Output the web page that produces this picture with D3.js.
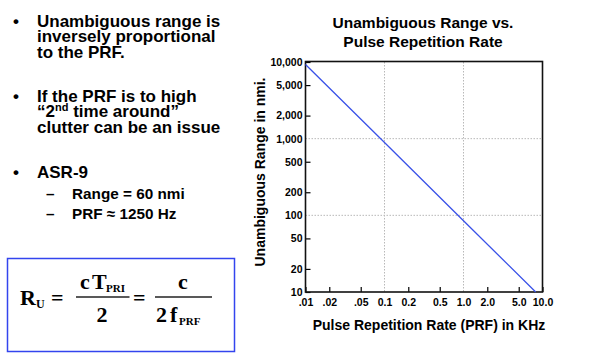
<!DOCTYPE html>
<html><head><meta charset="utf-8">
<script src="https://cdn.jsdelivr.net/npm/d3@7"></script>
<style>
body{margin:0;background:#fff;}
svg{display:block;}
text{font-family:"Liberation Sans",Arial,sans-serif;font-weight:bold;fill:#000;}
.serif{font-family:"Liberation Serif","Times New Roman",serif;font-weight:bold;}
</style></head>
<body>
<script>
// ---- data ----
const prfKHz = [0.01, 0.1, 1, 8.2];
const rangeNmi = [9300, 890, 85, 10];
const xTickValues = [0.01, 0.02, 0.05, 0.1, 0.2, 0.5, 1, 2, 5, 10];
const xTickLabels = [".01", ".02", ".05", "0.1", "0.2", "0.5", "1.0", "2.0", "5.0", "10.0"];
const yTickValues = [10, 20, 50, 100, 200, 500, 1000, 2000, 5000, 10000];
const yTickLabels = ["10", "20", "50", "100", "200", "500", "1,000", "2,000", "5,000", "10,000"];
const xGrid = [0.1, 1];
const yGrid = [100, 1000];

const W = 600, H = 358;
const svg = d3.select("body").append("svg").attr("width", W).attr("height", H);

const pL = 305.5, pR = 542.5, pT = 62, pB = 292;
const x = d3.scaleLog().domain([0.01, 10]).range([pL, pR]);
const y = d3.scaleLog().domain([10, 10000]).range([pB, pT]);

// grid
svg.append("g").selectAll("line").data(xGrid).join("line")
  .attr("x1", d => x(d)).attr("x2", d => x(d)).attr("y1", pT).attr("y2", pB)
  .attr("stroke", "#b8b8b8").attr("stroke-width", 1).attr("stroke-dasharray", "1.5,1.5");
svg.append("g").selectAll("line").data(yGrid).join("line")
  .attr("y1", d => y(d)).attr("y2", d => y(d)).attr("x1", pL).attr("x2", pR)
  .attr("stroke", "#b8b8b8").attr("stroke-width", 1).attr("stroke-dasharray", "1.5,1.5");

// axes
const xAxis = d3.axisBottom(x).tickValues(xTickValues)
  .tickFormat((d, i) => xTickLabels[i]).tickSize(-5).tickPadding(7);
const gx = svg.append("g").attr("transform", `translate(0,${pB})`).call(xAxis);
gx.select(".domain").remove();
gx.selectAll(".tick text").style("font-size", "10.5px").style("font-family", "Liberation Sans, Arial, sans-serif").style("font-weight", "bold");
gx.selectAll(".tick line").attr("stroke", "#000").attr("stroke-width", 1.2)
  .filter(d => xGrid.includes(d)).remove();

const yAxis = d3.axisLeft(y).tickValues(yTickValues)
  .tickFormat((d, i) => yTickLabels[i]).tickSize(-5).tickPadding(3);
const gy = svg.append("g").attr("transform", `translate(${pL},0)`).call(yAxis);
gy.select(".domain").remove();
gy.selectAll(".tick text").style("font-size", "10.5px").style("font-family", "Liberation Sans, Arial, sans-serif").style("font-weight", "bold");
gy.selectAll(".tick line").attr("stroke", "#000").attr("stroke-width", 1.2)
  .filter(d => yGrid.includes(d)).remove();

// frame
svg.append("rect").attr("x", pL).attr("y", pT - 0.5).attr("width", pR - pL).attr("height", pB - pT + 0.5)
  .attr("fill", "none").attr("stroke", "#111").attr("stroke-width", 1.6);

// line
const line = d3.line().x((d, i) => x(prfKHz[i])).y(d => y(d));
svg.append("path").datum(rangeNmi).attr("d", line)
  .attr("fill", "none").attr("stroke", "#3a52e8").attr("stroke-width", 1.3);

// titles
const title = svg.append("text").attr("text-anchor", "middle").style("font-size", "15.5px");
title.append("tspan").attr("x", 423).attr("y", 28).text("Unambiguous Range vs.");
title.append("tspan").attr("x", 423).attr("y", 46.5).text("Pulse Repetition Rate");

svg.append("text").attr("text-anchor", "middle").style("font-size", "14px")
  .attr("transform", "translate(265,172) rotate(-90)").text("Unambiguous Range in nmi.");
svg.append("text").attr("text-anchor", "middle").style("font-size", "14px")
  .attr("x", 429).attr("y", 330).text("Pulse Repetition Rate (PRF) in KHz");

// bullet text
const bulletX = 13, textX = 37, fs = "17px";
function bullet(yb) {
  svg.append("text").attr("x", bulletX).attr("y", yb).style("font-size", fs).text("•");
}
// block 1
bullet(26.5);
const b1 = svg.append("text").style("font-size", fs);
b1.append("tspan").attr("x", textX).attr("y", 26.5).text("Unambiguous range is");
b1.append("tspan").attr("x", textX).attr("y", 42).text("inversely proportional");
b1.append("tspan").attr("x", textX).attr("y", 57.5).text("to the PRF.");

// block 2
bullet(101.5);
const b2 = svg.append("text").style("font-size", fs);
b2.append("tspan").attr("x", textX).attr("y", 101.5).text("If the PRF is to high");
b2.append("tspan").attr("x", textX).attr("y", 117).text("\u201C2");
b2.append("tspan").attr("y", 111).style("font-size", "11px").text("nd");
b2.append("tspan").attr("y", 117).text(" time around\u201D");
b2.append("tspan").attr("x", textX).attr("y", 132.5).text("clutter can be an issue");

// block 3
bullet(178);
svg.append("text").attr("x", textX).attr("y", 178).style("font-size", fs).text("ASR-9");
const subFs = "15.3px";
[["Range = 60 nmi", 198.5], ["PRF \u2248 1250 Hz", 218.5]].forEach(([s, yb]) => {
  svg.append("text").attr("x", 46).attr("y", yb).style("font-size", subFs).text("\u2013");
  svg.append("text").attr("x", 72).attr("y", yb).style("font-size", subFs).text(s);
});

// formula box
svg.append("rect").attr("x", 7.5).attr("y", 258.5).attr("width", 227).attr("height", 93)
  .attr("fill", "none").attr("stroke", "#3344ee").attr("stroke-width", 1.5);

const fsz = "22px";
function st(xp, yp, s, size, anchor) {
  return svg.append("text").attr("class", "serif").attr("x", xp).attr("y", yp)
    .attr("text-anchor", anchor || "start").style("font-size", size).text(s);
}
st(20, 305, "R", fsz);
st(36, 308, "U", "12px");
st(51, 305, "=", fsz);
svg.append("line").attr("x1", 76).attr("x2", 129.5).attr("y1", 297).attr("y2", 297).attr("stroke", "#222").attr("stroke-width", 1.3);
st(80, 289, "c", fsz);
st(92, 289, "T", fsz);
st(106, 292, "PRI", "11px");
st(102, 322, "2", fsz, "middle");
st(133, 305, "=", fsz);
svg.append("line").attr("x1", 155).attr("x2", 212).attr("y1", 297).attr("y2", 297).attr("stroke", "#222").attr("stroke-width", 1.3);
st(183, 289, "c", fsz, "middle");
st(156, 322, "2", fsz);
st(170, 322, "f", fsz);
st(179, 325, "PRF", "11px");
</script>
</body></html>
